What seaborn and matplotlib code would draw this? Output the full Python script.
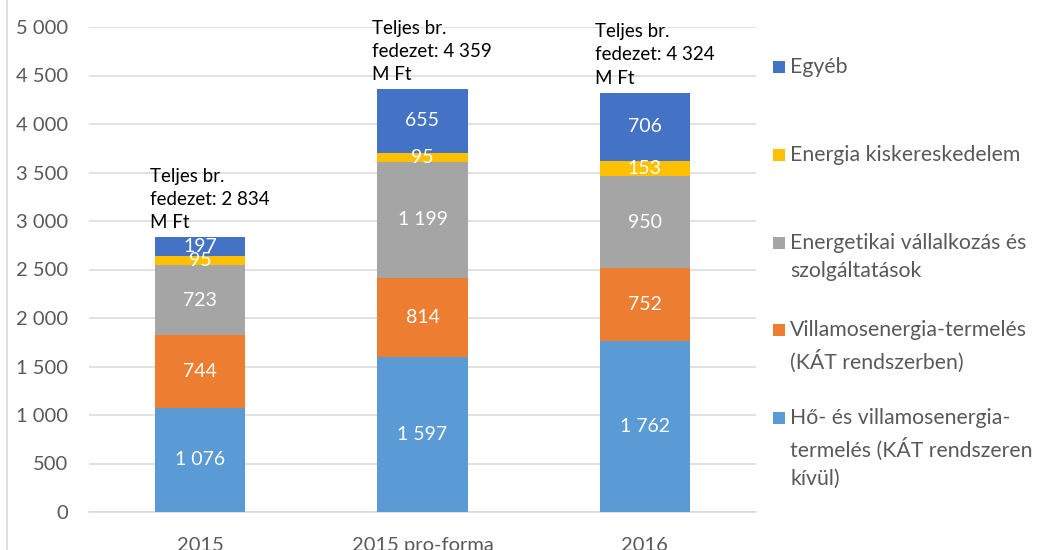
import matplotlib
matplotlib.use("Agg")
import matplotlib.pyplot as plt
import seaborn as sns
import pandas as pd
import numpy as np
from matplotlib.patches import Rectangle
from matplotlib.lines import Line2D

categories = ["2015", "2015 pro-forma", "2016"]
series_names = [
    "Hő- és villamosenergia-\ntermelés (KÁT rendszeren\nkívül)",
    "Villamosenergia-termelés\n(KÁT rendszerben)",
    "Energetikai vállalkozás és\nszolgáltatások",
    "Energia kiskereskedelem",
    "Egyéb",
]
ho_villamos = [1076, 1597, 1762]
villamos_kat = [744, 814, 752]
energetikai = [723, 1199, 950]
kiskereskedelem = [95, 95, 153]
egyeb = [197, 655, 706]
totals = [2834, 4359, 4324]
value_labels = [
    ["1 076", "1 597", "1 762"],
    ["744", "814", "752"],
    ["723", "1 199", "950"],
    ["95", "95", "153"],
    ["197", "655", "706"],
]
total_labels = ["2 834", "4 359", "4 324"]
yticks = [0, 500, 1000, 1500, 2000, 2500, 3000, 3500, 4000, 4500, 5000]
ytick_labels = ["0", "500", "1 000", "1 500", "2 000", "2 500", "3 000",
                "3 500", "4 000", "4 500", "5 000"]
colors = ["#5B9BD5", "#ED7D31", "#A5A5A5", "#FFC000", "#4472C4"]

series = [ho_villamos, villamos_kat, energetikai, kiskereskedelem, egyeb]
values = np.array(series, dtype=float)
cum = np.cumsum(values, axis=0)

sns.set_theme(style="white")
plt.rcParams["font.family"] = ["Lato", "DejaVu Sans"]

fig = plt.figure(figsize=(10.43, 5.5), dpi=100)
ax = fig.add_axes([89 / 1043, 1 - 512 / 550, (756 - 89) / 1043, (512 - 27) / 550])

# stacked bars: draw cumulative totals from top down
for k in range(len(series) - 1, -1, -1):
    df = pd.DataFrame({"cat": categories, "val": cum[k]})
    sns.barplot(data=df, x="cat", y="val", color=colors[k], width=0.405,
                saturation=1, ax=ax, order=categories, zorder=3, linewidth=0,
                edgecolor="none")

for k in range(len(series)):
    for i in range(len(categories)):
        mid = cum[k][i] - values[k][i] / 2
        ax.text(i, mid, value_labels[k][i], ha="center", va="center",
                color="white", fontsize=14, zorder=5)

for i in range(len(categories)):
    ax.text(i - 0.225, totals[i] + 60, "Teljes br.\nfedezet: " + total_labels[i] + "\nM Ft",
            ha="left", va="bottom", color="black", fontsize=13.5, linespacing=1.45, zorder=6)

ax.set_ylim(0, 5000)
ax.set_xlim(-0.5, 2.5)
ax.set_yticks(yticks)
ax.set_yticklabels(ytick_labels)
ax.yaxis.grid(True, color="#D9D9D9", linewidth=1.1, zorder=0)
ax.set_axisbelow(True)
for s in ["top", "right", "left"]:
    ax.spines[s].set_visible(False)
ax.spines["bottom"].set_color("#D9D9D9")
ax.spines["bottom"].set_linewidth(1.1)
ax.tick_params(axis="y", length=0, pad=15, labelsize=14.5, labelcolor="#595959")
ax.tick_params(axis="x", length=0, pad=18, labelsize=14.5, labelcolor="#595959")
ax.set_xlabel("")
ax.set_ylabel("")

# legend drawn manually (top series first)
leg_y = [67, 155, 243, 330, 418]
order = [4, 3, 2, 1, 0]
for yy, k in zip(leg_y, order):
    fig.add_artist(Rectangle((773 / 1043, 1 - (yy + 6) / 550), 12 / 1043, 12 / 550,
                             transform=fig.transFigure, facecolor=colors[k],
                             edgecolor="none"))
    fig.text(790 / 1043, 1 - (yy - 10) / 550, series_names[k], ha="left", va="top",
             color="#595959", fontsize=15.3, linespacing=1.5)

fig.add_artist(Line2D([7 / 1043, 7 / 1043], [0, 1], transform=fig.transFigure,
                      color="#D9D9D9", linewidth=1.2))

fig.savefig("out.png", dpi=100)
